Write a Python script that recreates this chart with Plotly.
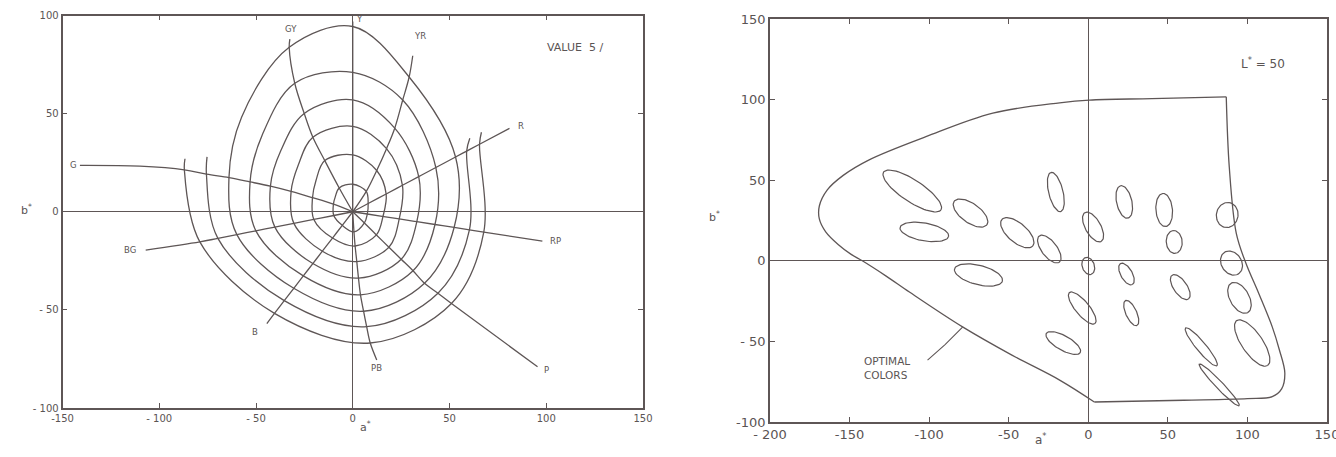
import math
import plotly.graph_objects as go

INK = "#5e5656"
TXT = "#5a5454"
FONT = "DejaVu Sans"

# ---------------- left panel: Munsell Value 5 / in the a*b* plane ----------------
HUES = ["Y", "YR", "R", "RP", "P", "PB", "B", "BG", "G", "GY"]
CHROMAS = [2, 4, 6, 8, 10, 12, 14, 16]

# direction (degrees) of each constant-hue line at chroma /2 ... /16
HUE_DIR = {
    "Y":  [90, 90, 90, 90, 90, 90, None, None],
    "YR": [56, 59.5, 61.5, 63, 65.6, 67, None, None],
    "R":  [27.7, 27.7, 27.7, 27.7, 27.7, 27.7, 27.7, 27.7],
    "RP": [-8.7, -8.7, -8.7, -8.7, -8.7, -8.7, -8.7, -8.7],
    "P":  [-43.5, -44, -44, -44, -44, -44.5, -43.3, -42.5],
    "PB": [-86.5, -86, -85.3, -85, -84.6, -83.7, -83, -82.3],
    "B":  [-128, -128, -128, -128, -128, -128, -128, -128],
    "BG": [-169, -169, -169, -169, -169, -169, -169, -169],
    "G":  [159, 161, 162, 163, 164, 164.8, 165.8, 166.2],
    "GY": [120, 119, 118.5, 116.6, 114.6, 111.4, None, None],
}
# distance from the neutral point of each chroma step along each hue line
HUE_DIST = {
    "Y":  [14, 29, 43.5, 57, 71, 94.4, None, None],
    "YR": [12.5, 24.4, 36.6, 47.8, 62.5, 74.6, None, None],
    "R":  [9, 19.5, 29, 38.5, 48.5, 60, 66.5, 74],
    "RP": [7.6, 15.8, 24.3, 33.5, 43, 53, 61, 68.5],
    "P":  [8.3, 17, 26, 34.8, 43.3, 52, 60.5, 69.2],
    "PB": [10.3, 17.5, 25.5, 33.9, 42.5, 51, 59, 67.5],
    "B":  [8.8, 17, 25.5, 33.5, 41.5, 49.5, 57.5, 65.7],
    "BG": [10, 20.5, 31, 41, 51, 61, 71, 80.5],
    "G":  [10.7, 22, 33.5, 44.5, 55.2, 66.3, 78, 89.6],
    "GY": [14, 29.8, 43.2, 56, 72, 90, None, None],
}
# extra contour points between G and GY (direction 140 deg), closed contours only
MID_DIR = 140
MID_DIST = [11.8, 24.8, 36.8, 48.5, 61, 75]

# outer ends of the hue lines and their labels
HUE_END_A = {"Y": 0, "YR": 31, "R": 81, "RP": 98, "P": 95.5, "PB": 12.4,
             "B": -44.4, "BG": -107, "G": -141, "GY": -32.5}
HUE_END_B = {"Y": 97, "YR": 79.5, "R": 42.5, "RP": -15, "P": -79, "PB": -75.5,
             "B": -57, "BG": -19.5, "G": 23.6, "GY": 88}
G_BEND = (-110, 23.2)
HUE_LABEL_A = {"Y": 3.5, "YR": 35, "R": 87, "RP": 105, "P": 100, "PB": 12.5,
               "B": -50.5, "BG": -115, "G": -144.5, "GY": -32}
HUE_LABEL_B = {"Y": 98, "YR": 89.5, "R": 43.5, "RP": -15, "P": -80.5, "PB": -79.5,
               "B": -61.5, "BG": -19.5, "G": 23.6, "GY": 93}

# open ends of the /14 and /16 contours (green side, red side)
OPEN_START = {14: (-75.3, 28), 16: (-86.7, 27)}
OPEN_END = {14: (60.5, 37.5), 16: (66.5, 40.5)}


def polar(ang, dist):
    t = math.radians(ang)
    return dist * math.cos(t), dist * math.sin(t)


def hue_point(h, k):
    if HUE_DIST[h][k] is None:
        return None
    return polar(HUE_DIR[h][k], HUE_DIST[h][k])


# ---------------- right panel: L* = 50 ----------------
# optimal-colour limit, upper run (corner at top right round the left nose)
LIMIT_UP_A = [86.7, 40, 0.7, -18, -60, -102, -138, -154, -164, -169, -169, -165, -157,
              -149, -142, -127, -112.4, -79, -48, -18, 3.8]
LIMIT_UP_B = [101.7, 100.6, 99.7, 98, 91.6, 77, 62.5, 53, 44, 34, 26, 18, 10,
              4, 0, -9.5, -19.4, -41, -58.5, -74, -87.6]
# lower run (bottom edge, rounded lower right, back up to the top corner)
LIMIT_LO_A = [3.8, 60, 100, 115.6, 121.5, 123.5, 120, 115.6, 107, 99, 93, 88.6, 86.7]
LIMIT_LO_B = [-87.6, -86.5, -85.5, -84.3, -79.5, -69.6, -55, -41, -20, -1.4, 17, 58, 101.7]

# colour-difference ellipses: centre, semi-axes, tilt (deg)
ELL_A = [-110.6, -74, -103, -69, -20.4, -44.6, -24.5, 3, 0, 22.6, 24, 27, -3.8, -15.7,
         47.7, 87.3, 54, 57.8, 90, 95, 103, 71, 82.3]
ELL_B = [43.3, 29.6, 17.9, -8.8, 42.7, 17.4, 7.3, 21, -3.2, 36.5, -8.2, -32.4, -29.3, -51,
         31.5, 28.4, 11.7, -16.3, -1.4, -23, -51, -53.4, -77]
ELL_MAJ = [21.5, 12.6, 15.5, 15.5, 12.5, 12.7, 10.3, 10.3, 5.5, 10.3, 7.5, 8.5, 12.5, 12.2,
           10.3, 7.8, 7.1, 9, 8, 10.5, 17, 15.3, 18]
ELL_MIN = [6.8, 6, 5.5, 6, 4.5, 6, 4.8, 4.8, 3.8, 4.8, 3.6, 3.4, 4.3, 4.5,
           5.2, 6.8, 5, 4.2, 6.3, 6, 6.5, 3, 2.3]
ELL_TILT = [-33, -35, -10, -14, 104, -40, -52, -60, -70, 103, -60, -65, -50, -29,
            95, 80, 95, -55, -55, -60, -55, -50, -46]

POINTER_A = [-79, -90, -101]
POINTER_B = [-41.2, -52, -61.6]

fig = go.Figure()


def add_line(xs, ys, ax="x", ay="y", shape="spline", width=1.3):
    fig.add_trace(go.Scatter(x=xs, y=ys, xaxis=ax, yaxis=ay, mode="lines",
                             line=dict(color=INK, width=width, shape=shape, smoothing=1.0),
                             hoverinfo="skip", showlegend=False))


# closed chroma contours /2 ... /12
for k in range(6):
    pts = [hue_point(h, k) for h in HUES[:9]]
    pts.append(polar(MID_DIR, MID_DIST[k]))
    pts.append(hue_point("GY", k))
    pts.append(hue_point("Y", k))
    add_line([p[0] for p in pts], [p[1] for p in pts])

# open chroma contours /14 and /16 (green round through blue to red)
for k, c in ((6, 14), (7, 16)):
    order = ["G", "BG", "B", "PB", "P", "RP", "R"]
    pts = [OPEN_START[c]] + [hue_point(h, k) for h in order] + [OPEN_END[c]]
    add_line([p[0] for p in pts], [p[1] for p in pts])

# constant-hue lines
for h in HUES:
    pts = [(0.0, 0.0)] + [hue_point(h, k) for k in range(8) if HUE_DIST[h][k] is not None]
    if h == "G":
        pts.append(G_BEND)
    pts.append((HUE_END_A[h], HUE_END_B[h]))
    add_line([p[0] for p in pts], [p[1] for p in pts])

# optimal-colour limit
add_line(LIMIT_UP_A, LIMIT_UP_B, "x2", "y2")
add_line(LIMIT_LO_A, LIMIT_LO_B, "x2", "y2")
add_line(POINTER_A, POINTER_B, "x2", "y2", shape="linear", width=1.1)

# ellipses
for cx, cy, ra, rb, tilt in zip(ELL_A, ELL_B, ELL_MAJ, ELL_MIN, ELL_TILT):
    ph = math.radians(tilt)
    xs, ys = [], []
    for i in range(73):
        t = 2 * math.pi * i / 72
        u, v = ra * math.cos(t), rb * math.sin(t)
        xs.append(cx + u * math.cos(ph) - v * math.sin(ph))
        ys.append(cy + u * math.sin(ph) + v * math.cos(ph))
    add_line(xs, ys, "x2", "y2", shape="linear", width=1.2)

W, H = 1336, 457


def axis(rng, vals, texts, dom, size, anchor):
    return dict(range=rng, domain=dom, anchor=anchor, tickmode="array", tickvals=vals, ticktext=texts,
                automargin=False, ticklabeloverflow="allow",
                showgrid=False, zeroline=True, zerolinecolor=INK, zerolinewidth=1.1,
                showline=True, linecolor=INK, linewidth=1.6, mirror="ticks",
                ticks="inside", ticklen=5, tickwidth=1.1, tickcolor=INK,
                tickfont=dict(family=FONT, size=size, color=TXT), fixedrange=True)


anns = []
for h in HUES:
    anns.append(dict(x=HUE_LABEL_A[h], y=HUE_LABEL_B[h], xref="x", yref="y", text=h, showarrow=False,
                     font=dict(family=FONT, size=8.5, color=TXT)))
anns += [
    dict(x=115, y=83.6, xref="x", yref="y", text="VALUE  5 /", showarrow=False,
         font=dict(family=FONT, size=11, color=TXT)),
    dict(x=19 / W, y=1 - 210 / H, xref="paper", yref="paper", text="b<sup>*</sup>", showarrow=False,
         font=dict(family=FONT, size=11, color=TXT)),
    dict(x=358 / W, y=1 - 436 / H, xref="paper", yref="paper", text="a<sup>*</sup>", showarrow=False,
         font=dict(family=FONT, size=11, color=TXT)),
    dict(x=714 / W, y=1 - 216 / H, xref="paper", yref="paper", text="b<sup>*</sup>", showarrow=False,
         font=dict(family=FONT, size=11, color=TXT)),
    dict(x=1049 / W, y=1 - 449 / H, xref="paper", yref="paper", text="a<sup>*</sup>", showarrow=False,
         font=dict(family=FONT, size=12, color=TXT)),
    dict(x=110, y=122.5, xref="x2", yref="y2", text="L<sup>*</sup> = 50", showarrow=False,
         font=dict(family=FONT, size=12, color=TXT)),
    dict(x=-142, y=-66.5, xref="x2", yref="y2", text="OPTIMAL<br>COLORS", showarrow=False,
         xanchor="left", align="left", font=dict(family=FONT, size=10.5, color=TXT)),
]

fig.update_layout(
    width=W, height=H, margin=dict(l=0, r=0, t=0, b=0, autoexpand=False),
    paper_bgcolor="white", plot_bgcolor="white", showlegend=False,
    xaxis=axis([-150, 150], [-150, -100, -50, 0, 50, 100, 150],
               ["-150", "- 100", "- 50", "0", "50", "100", "150"],
               [62.5 / W, 643 / W], 10, "y"),
    yaxis=axis([-100, 100], [-100, -50, 0, 50, 100], ["- 100", "- 50", "0", "50", "100"],
               [1 - 408 / H, 1 - 15.5 / H], 10, "x"),
    xaxis2=axis([-200, 150], [-200, -150, -100, -50, 0, 50, 100, 150],
                ["- 200", "-150", "-100", "-50", "0", "50", "100", "150"],
                [770 / W, 1327 / W], 13, "y2"),
    yaxis2=axis([-100, 150], [-100, -50, 0, 50, 100, 150],
                ["-100", "- 50", "0", "50", "100", "150"],
                [1 - 422 / H, 1 - 19 / H], 13, "x2"),
    annotations=anns,
)

fig.write_html("out.html")
